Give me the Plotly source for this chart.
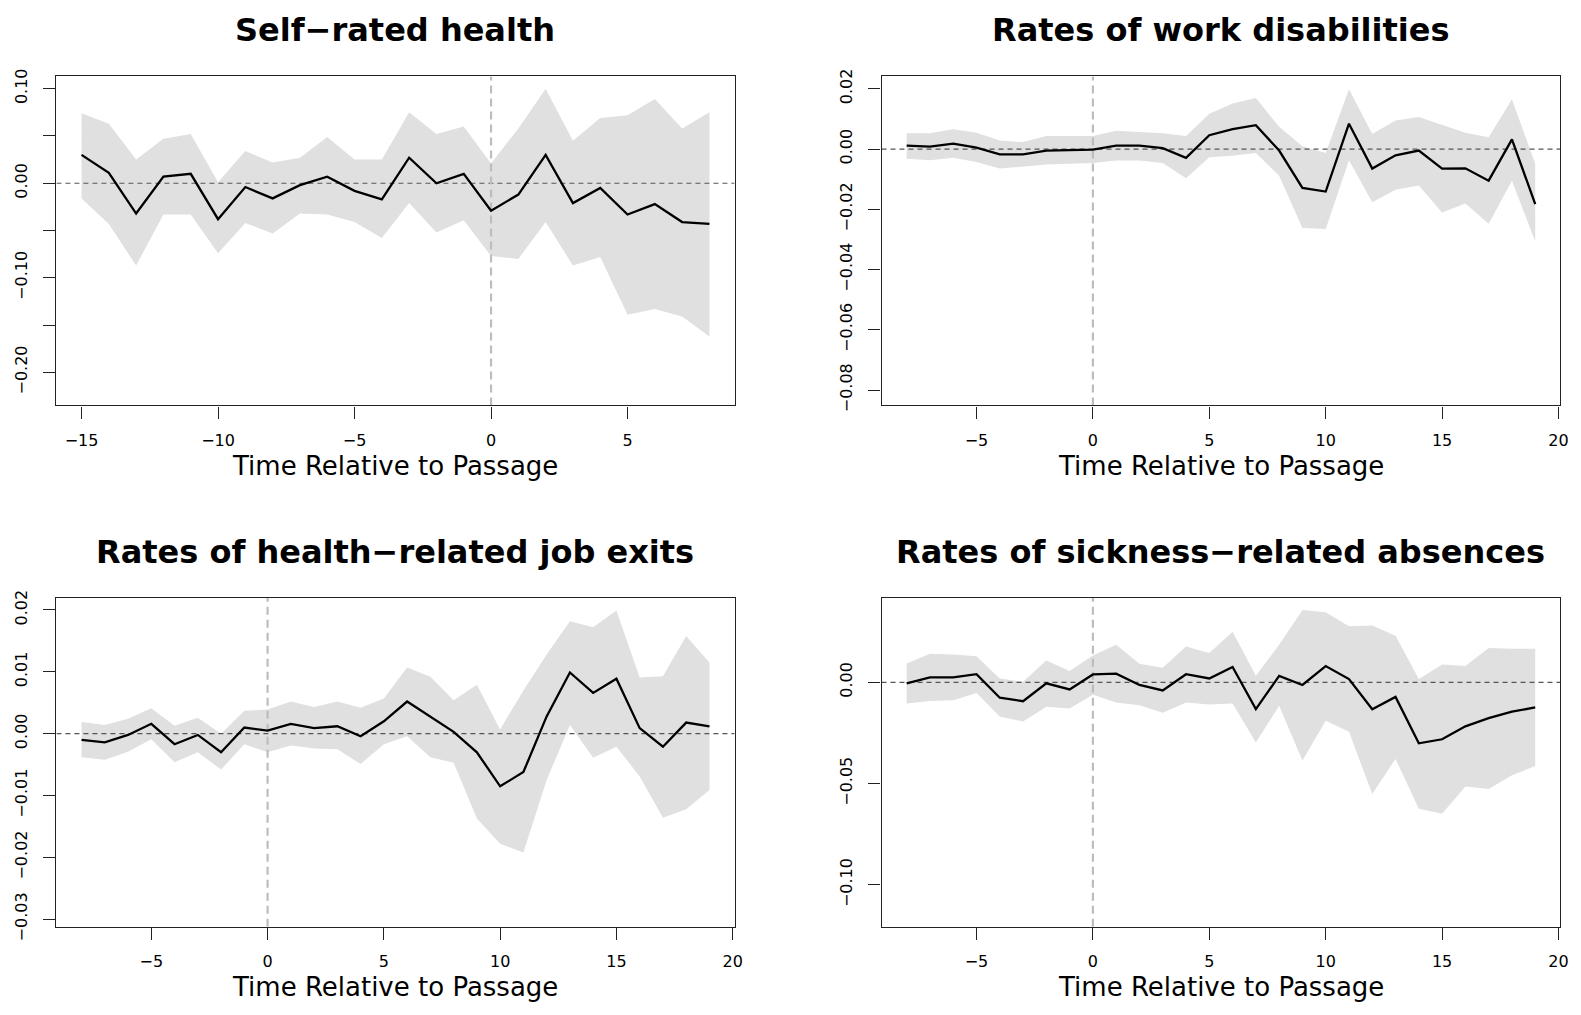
import plotly.graph_objects as go

# ---- event-study estimates with 95% confidence bands ----
t_health = list(range(-15, 9))
health_est = [0.030, 0.011, -0.032, 0.007, 0.010, -0.038, -0.004, -0.016, -0.002, 0.007, -0.008, -0.017,
              0.027, 0.000, 0.010, -0.029, -0.012, 0.030, -0.021, -0.005, -0.033, -0.022, -0.041, -0.043]
health_hi = [0.074, 0.063, 0.025, 0.047, 0.052, 0.001, 0.034, 0.022, 0.027, 0.049, 0.025, 0.025,
             0.075, 0.052, 0.060, 0.021, 0.058, 0.100, 0.045, 0.069, 0.072, 0.089, 0.058, 0.075]
health_lo = [-0.016, -0.043, -0.087, -0.033, -0.033, -0.074, -0.042, -0.053, -0.032, -0.033, -0.041, -0.058,
             -0.021, -0.052, -0.039, -0.077, -0.080, -0.041, -0.087, -0.078, -0.139, -0.133, -0.141, -0.162]

t_other = list(range(-8, 20))
disab_est = [0.0011, 0.0008, 0.0018, 0.0005, -0.0018, -0.0018, -0.0005, -0.0003, -0.0002, 0.0011, 0.0011, 0.0003,
             -0.0029, 0.0046, 0.0066, 0.0079, -0.0005, -0.0129, -0.0141, 0.0084, -0.0065, -0.0021, -0.0005,
             -0.0065, -0.0064, -0.0105, 0.0032, -0.0183]
disab_hi = [0.0052, 0.0052, 0.0066, 0.0054, 0.0028, 0.0023, 0.0043, 0.0044, 0.0043, 0.0061, 0.0057, 0.0052,
            0.0043, 0.0117, 0.0151, 0.0169, 0.0074, 0.0009, -0.0013, 0.0198, 0.0050, 0.0095, 0.0106,
            0.0079, 0.0054, 0.0039, 0.0165, -0.0049]
disab_lo = [-0.0032, -0.0037, -0.0029, -0.0043, -0.0065, -0.0059, -0.0051, -0.0049, -0.0046, -0.0038, -0.0038,
            -0.0046, -0.0097, -0.0027, -0.0022, -0.0013, -0.0089, -0.0262, -0.0265, -0.0037, -0.0177, -0.0135,
            -0.0121, -0.0211, -0.0181, -0.0248, -0.0105, -0.0307]

exits_est = [-0.0010, -0.0014, -0.0002, 0.0016, -0.0017, -0.0002, -0.0030, 0.0010, 0.0005, 0.0016, 0.0009, 0.0012,
             -0.0004, 0.0020, 0.0052, 0.0028, 0.0003, -0.0030, -0.0085, -0.0062, 0.0028, 0.0099, 0.0066, 0.0089,
             0.0009, -0.0021, 0.0018, 0.0012]
exits_hi = [0.0019, 0.0014, 0.0024, 0.0041, 0.0013, 0.0026, 0.0000, 0.0037, 0.0039, 0.0052, 0.0043, 0.0052,
            0.0042, 0.0057, 0.0107, 0.0092, 0.0054, 0.0079, 0.0007, 0.0070, 0.0128, 0.0182, 0.0172, 0.0199,
            0.0091, 0.0093, 0.0158, 0.0115]
exits_lo = [-0.0038, -0.0042, -0.0029, -0.0009, -0.0046, -0.0030, -0.0058, -0.0017, -0.0030, -0.0019, -0.0024,
            -0.0025, -0.0049, -0.0017, -0.0004, -0.0038, -0.0047, -0.0137, -0.0178, -0.0192, -0.0075, 0.0014,
            -0.0039, -0.0021, -0.0069, -0.0136, -0.0122, -0.0091]

sick_est = [-0.0005, 0.0024, 0.0024, 0.0040, -0.0076, -0.0093, -0.0005, -0.0035, 0.0039, 0.0043, -0.0013, -0.0040,
            0.0040, 0.0019, 0.0076, -0.0132, 0.0032, -0.0013, 0.0080, 0.0016, -0.0133, -0.0072, -0.0301, -0.0281,
            -0.0217, -0.0177, -0.0145, -0.0124]
sick_hi = [0.0093, 0.0141, 0.0137, 0.0129, 0.0019, 0.0003, 0.0108, 0.0056, 0.0132, 0.0185, 0.0092, 0.0072,
           0.0177, 0.0145, 0.0249, 0.0032, 0.0185, 0.0357, 0.0346, 0.0277, 0.0281, 0.0230, 0.0016, 0.0088,
           0.0080, 0.0169, 0.0166, 0.0166]
sick_lo = [-0.0105, -0.0092, -0.0088, -0.0053, -0.0169, -0.0193, -0.0121, -0.0129, -0.0061, -0.0100, -0.0113,
           -0.0150, -0.0100, -0.0109, -0.0105, -0.0297, -0.0116, -0.0386, -0.0190, -0.0244, -0.0551, -0.0378,
           -0.0624, -0.0648, -0.0514, -0.0526, -0.0458, -0.0413]

titles = ["Self\u2212rated health", "Rates of work disabilities",
          "Rates of health\u2212related job exits", "Rates of sickness\u2212related absences"]
x_title = "Time Relative to Passage"

# y tick positions and which of them carry a label
health_yticks = [0.10, 0.05, 0.00, -0.05, -0.10, -0.15, -0.20]
health_ylabels = ["0.10", "", "0.00", "", "\u22120.10", "", "\u22120.20"]
disab_yticks = [0.02, 0.00, -0.02, -0.04, -0.06, -0.08]
exits_yticks = [0.02, 0.01, 0.00, -0.01, -0.02, -0.03]
sick_yticks = [0.00, -0.05, -0.10]
health_xticks = [-15, -10, -5, 0, 5]
other_xticks = [-5, 0, 5, 10, 15, 20]


def fmt(v):
    s = f"{v:.2f}"
    if s.startswith("-"):
        s = "\u2212" + s[1:]
    return s


def fmt_int(v):
    return ("\u2212" + str(-v)) if v < 0 else str(v)


W, H = 1581, 1015
FONT = "DejaVu Sans, Verdana, sans-serif"

panels = [
    dict(t=t_health, est=health_est, hi=health_hi, lo=health_lo, title=titles[0],
         xr=[-15.92, 8.92], yr=[-0.235, 0.113], xt=health_xticks,
         yt=health_yticks, yl=health_ylabels, px=(56.7, 738.3), py=(70, 406.7)),
    dict(t=t_other, est=disab_est, hi=disab_hi, lo=disab_lo, title=titles[1],
         xr=[-9.08, 20.08], yr=[-0.0851, 0.0241], xt=other_xticks,
         yt=disab_yticks, yl=[fmt(v) for v in disab_yticks], px=(886, 1568.3), py=(70, 406.7)),
    dict(t=t_other, est=exits_est, hi=exits_hi, lo=exits_lo, title=titles[2],
         xr=[-9.08, 20.08], yr=[-0.0312, 0.0220], xt=other_xticks,
         yt=exits_yticks, yl=[fmt(v) for v in exits_yticks], px=(56.7, 738.3), py=(603.3, 940)),
    dict(t=t_other, est=sick_est, hi=sick_hi, lo=sick_lo, title=titles[3],
         xr=[-9.08, 20.08], yr=[-0.1206, 0.0418], xt=other_xticks,
         yt=sick_yticks, yl=[fmt(v) for v in sick_yticks], px=(886, 1568.3), py=(603.3, 940)),
]

fig = go.Figure()
annotations = []
layout_axes = {}

for i, p in enumerate(panels, start=1):
    xa = "x" if i == 1 else f"x{i}"
    ya = "y" if i == 1 else f"y{i}"
    # confidence band
    fig.add_trace(go.Scatter(x=p["t"], y=p["hi"], xaxis=xa, yaxis=ya, mode="lines",
                             line=dict(width=0, color="#e0e0e0"), showlegend=False, hoverinfo="skip"))
    fig.add_trace(go.Scatter(x=p["t"], y=p["lo"], xaxis=xa, yaxis=ya, mode="lines",
                             line=dict(width=0, color="#e0e0e0"), fill="tonexty",
                             fillcolor="#e0e0e0", showlegend=False, hoverinfo="skip"))
    # reference lines
    fig.add_trace(go.Scatter(x=p["xr"], y=[0, 0], xaxis=xa, yaxis=ya, mode="lines",
                             line=dict(color="#555555", width=1.2, dash="5px,4px"),
                             showlegend=False, hoverinfo="skip"))
    fig.add_trace(go.Scatter(x=[0, 0], y=p["yr"], xaxis=xa, yaxis=ya, mode="lines",
                             line=dict(color="#bdbdbd", width=2.2, dash="8px,5px"),
                             showlegend=False, hoverinfo="skip"))
    # point estimates
    fig.add_trace(go.Scatter(x=p["t"], y=p["est"], xaxis=xa, yaxis=ya, mode="lines",
                             line=dict(color="black", width=2.3), showlegend=False))

    xdom = [p["px"][0] / W, p["px"][1] / W]
    ydom = [1 - p["py"][1] / H, 1 - p["py"][0] / H]
    xkey = "xaxis" if i == 1 else f"xaxis{i}"
    ykey = "yaxis" if i == 1 else f"yaxis{i}"
    layout_axes[xkey] = dict(
        domain=xdom, anchor=ya, range=p["xr"], tickmode="array", tickvals=p["xt"],
        ticktext=[fmt_int(v) for v in p["xt"]],
        ticks="outside", ticklen=12, tickwidth=1, tickcolor="#222",
        showline=True, mirror=True, linecolor="#222", linewidth=1.2,
        showgrid=False, zeroline=False, ticklabelstandoff=8,
        tickfont=dict(family=FONT, size=16, color="black"),
    )
    layout_axes[ykey] = dict(
        domain=ydom, anchor=xa, range=p["yr"], tickmode="array", tickvals=p["yt"],
        ticktext=p["yl"], tickangle=-90,
        ticks="outside", ticklen=12, tickwidth=1, tickcolor="#222",
        showline=True, mirror=True, linecolor="#222", linewidth=1.2,
        showgrid=False, zeroline=False, ticklabelstandoff=10,
        tickfont=dict(family=FONT, size=16, color="black"),
    )
    cx = (xdom[0] + xdom[1]) / 2
    title_y = 1 - (p["py"][0] - 47) / H
    xlab_y = 1 - (p["py"][1] + 62) / H
    annotations.append(dict(text=f"<b>{p['title']}</b>", x=cx, y=title_y, xref="paper", yref="paper",
                            xanchor="center", yanchor="middle", showarrow=False,
                            font=dict(family=FONT, size=32, color="black")))
    annotations.append(dict(text=x_title, x=cx, y=xlab_y, xref="paper", yref="paper",
                            xanchor="center", yanchor="middle", showarrow=False,
                            font=dict(family=FONT, size=26, color="black")))

fig.update_layout(
    width=W, height=H, margin=dict(l=0, r=0, t=0, b=0),
    paper_bgcolor="white", plot_bgcolor="white",
    annotations=annotations, showlegend=False,
    **layout_axes,
)

fig.write_html("out.html")
